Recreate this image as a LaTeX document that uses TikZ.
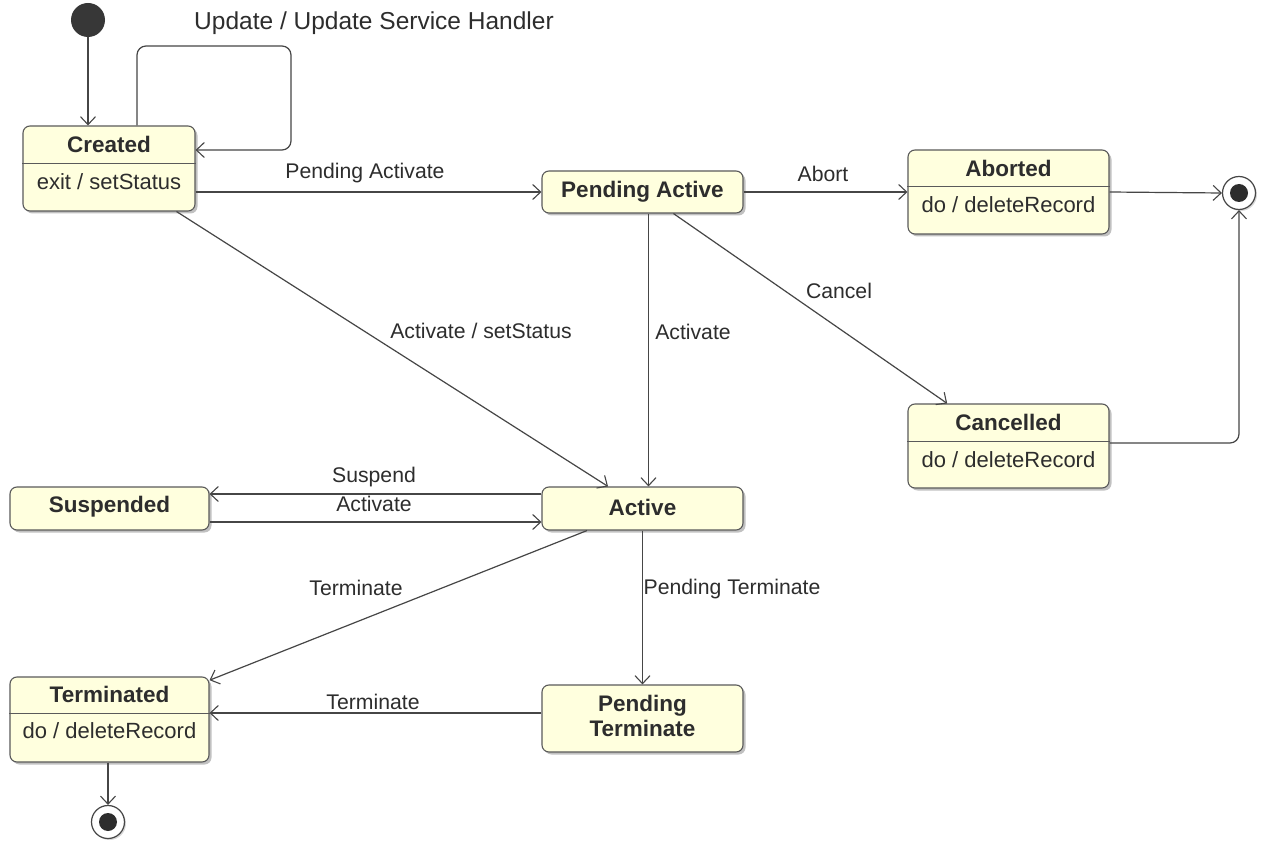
\documentclass[tikz,border=0pt]{standalone}
\usepackage{fontspec}
\setmainfont{Liberation Sans}
\usetikzlibrary{arrows.meta,shadows,calc}
\definecolor{stfill}{RGB}{255,255,222}
\definecolor{stline}{RGB}{90,90,90}
\definecolor{ink}{RGB}{45,45,45}
\definecolor{edge}{RGB}{70,70,70}
\begin{document}
\begin{tikzpicture}[x=1pt,y=-1pt,
  state/.style={draw=stline, line width=1.1pt, fill=stfill, rounded corners=7pt,
    drop shadow={shadow xshift=2.5pt, shadow yshift=-2.5pt, fill=black!40, opacity=0.6},
    inner sep=0pt},
  divider/.style={draw=stline, line width=0.9pt},
  ttl/.style={font=\fontsize{22.5}{25}\selectfont\bfseries, text=ink, inner sep=0pt},
  body/.style={font=\fontsize{22}{25}\selectfont, text=ink, inner sep=0pt},
  lbl/.style={font=\fontsize{21.2}{24}\selectfont, text=ink, inner sep=0pt},
  biglbl/.style={font=\fontsize{24.5}{28}\selectfont, text=ink, inner sep=0pt},
  tr/.style={draw=edge, line width=1.2pt, -{Straight Barb[length=8pt,width=15pt,line width=1.1pt]}},
  initst/.style={circle, fill=ink!95, minimum size=34pt, inner sep=0pt},
  finalst/.style={circle, draw=edge, line width=1.2pt, fill=white, minimum size=33pt, inner sep=0pt,
    drop shadow={shadow xshift=1.5pt, shadow yshift=-1.5pt, fill=black!30, opacity=0.5}},
  finaldot/.style={circle, fill=ink, minimum size=18pt, inner sep=0pt}]
\useasboundingbox[fill=white] (0,0) rectangle (1262,845);

% coordinates
\coordinate (d1) at (0,163);
\coordinate (d2) at (0,186);
\coordinate (d3) at (0,441);
\coordinate (d4) at (0,713);
\coordinate (ysus) at (0,494);
\coordinate (yact) at (0,522);
\coordinate (yterm) at (0,713);
\coordinate (ycan) at (0,443);
\coordinate (l1) at (137,46);
\coordinate (l2) at (291,46);
\coordinate (l3) at (291,150);

% states
\node[initst] (init) at (88,20) {};

\node[state, minimum width=172pt, minimum height=85pt] (created) at (109,168.5) {};
\draw[divider] (created.west |- d1) -- (created.east |- d1);
\node[ttl] (createdT) at (109,144) {Created};
\node[body] (createdB) at (109,182) {exit / setStatus};

\node[state, minimum width=201pt, minimum height=42pt] (pa) at (642.5,192) {};
\node[ttl] (paT) at (642.5,192) {Pending Active};

\node[state, minimum width=201pt, minimum height=84pt] (aborted) at (1008.5,192) {};
\draw[divider] (aborted.west |- d2) -- (aborted.east |- d2);
\node[ttl] (abortedT) at (1008.5,168) {Aborted};
\node[body] (abortedB) at (1008.5,205) {do / deleteRecord};

\node[finalst] (f1) at (1239,193) {};
\node[finaldot] (f1d) at (f1) {};

\node[state, minimum width=201pt, minimum height=84pt] (cancelled) at (1008.5,446) {};
\draw[divider] (cancelled.west |- d3) -- (cancelled.east |- d3);
\node[ttl] (cancelledT) at (1008.5,422) {Cancelled};
\node[body] (cancelledB) at (1008.5,460) {do / deleteRecord};

\node[state, minimum width=199pt, minimum height=43pt] (suspended) at (109.5,508.5) {};
\node[ttl] (suspendedT) at (109.5,507) {Suspended};

\node[state, minimum width=201pt, minimum height=43pt] (active) at (642.5,508.5) {};
\node[ttl] (activeT) at (642.5,507) {Active};

\node[state, minimum width=199pt, minimum height=85pt] (terminated) at (109.5,719.5) {};
\draw[divider] (terminated.west |- d4) -- (terminated.east |- d4);
\node[ttl] (terminatedT) at (109.5,694) {Terminated};
\node[body] (terminatedB) at (109.5,731) {do / deleteRecord};

\node[state, minimum width=201pt, minimum height=67pt] (pt) at (642.5,718.5) {};
\node[ttl, align=center] (ptT) at (642.5,716) {Pending\\Terminate};

\node[finalst] (f2) at (108,822) {};
\node[finaldot] (f2d) at (f2) {};

% transitions
\draw[tr] (init) -- (init |- created.north);
\draw[tr, rounded corners=9pt] (created.north -| l1) -- (l1) -- (l2) -- (l3) -- (created.east |- l3);
\node[biglbl] (lupd) at (374,23) {Update / Update Service Handler};

\draw[tr] (created.east |- pa) -- (pa.west)
  node[lbl] at (365,173) {Pending Activate};
\draw[tr] (pa.east) -- (aborted.west)
  node[lbl] at (823,174) {Abort};
\draw[tr] (aborted.east) -- (f1.west);
\draw[tr] (created) -- (active)
  node[lbl] at (481,331) {Activate / setStatus};
\draw[tr] ([xshift=6pt]pa.south) -- ([xshift=6pt]active.north)
  node[lbl] at (693,332) {Activate};
\draw[tr] (pa) -- (cancelled)
  node[lbl] at (839,291) {Cancel};
\draw[tr, rounded corners=9pt] (cancelled.east |- ycan) -| (f1.south);
\draw[tr] (active.west |- ysus) -- (suspended.east |- ysus)
  node[lbl] at (374,477) {Suspend};
\draw[tr] (suspended.east |- yact) -- (active.west |- yact)
  node[lbl] at (374,504) {Activate};
\draw[tr] (active) -- (terminated)
  node[lbl] at (356,588) {Terminate};
\draw[tr] (active.south) -- (pt.north)
  node[lbl] at (732,589) {Pending Terminate};
\draw[tr] (pt.west |- yterm) -- (terminated.east |- yterm)
  node[lbl] at (373,702) {Terminate};
\draw[tr] (terminated.south -| f2) -- (f2.north);
\end{tikzpicture}
\end{document}
